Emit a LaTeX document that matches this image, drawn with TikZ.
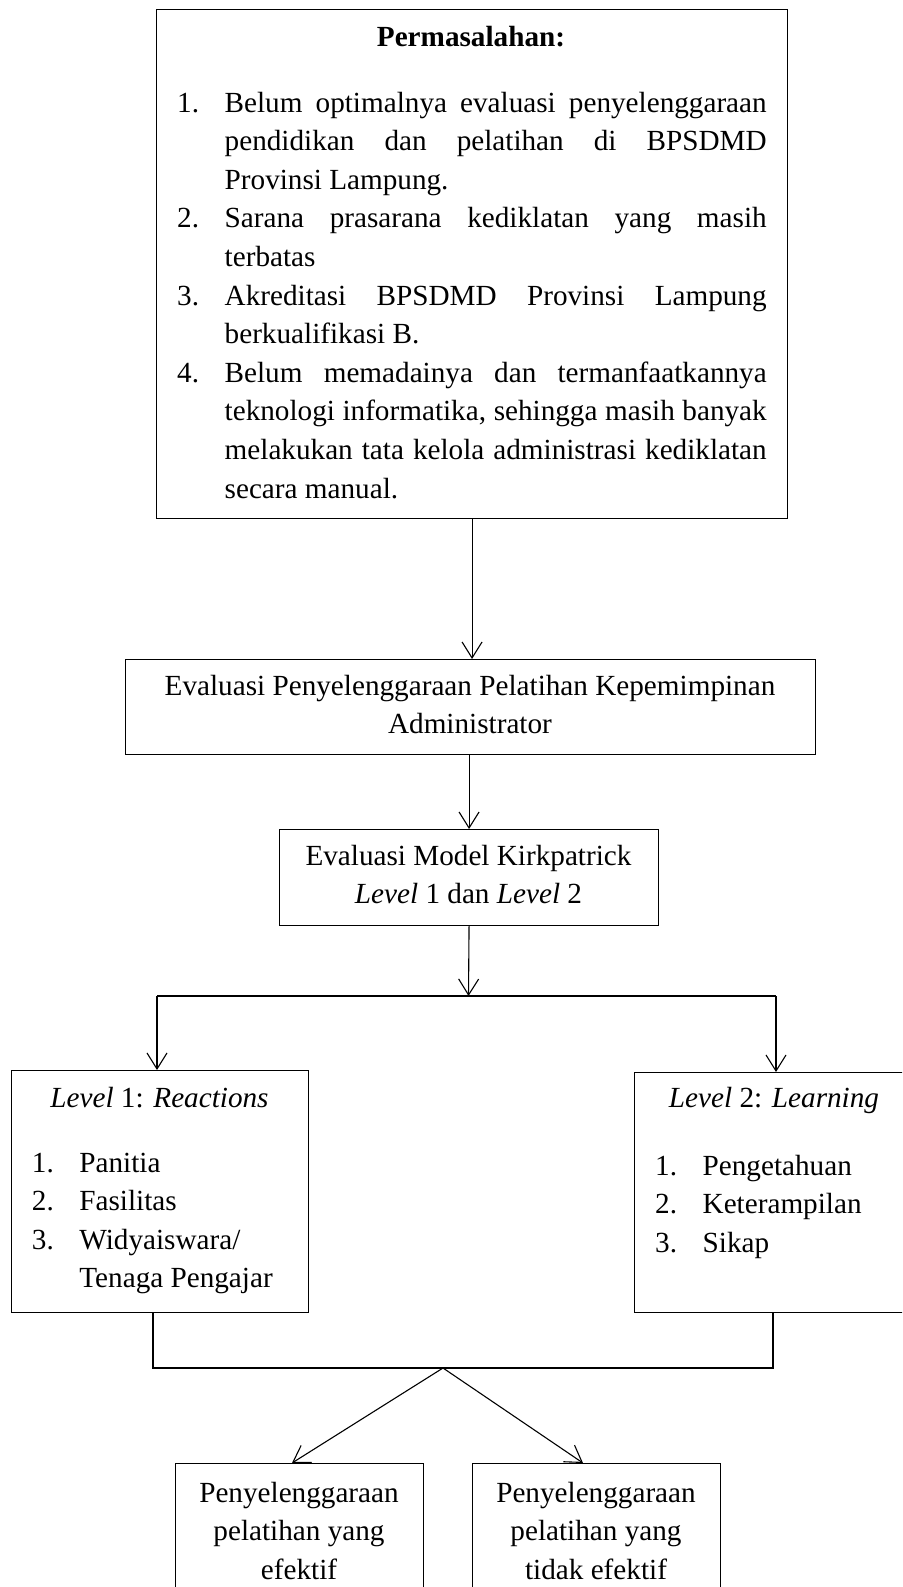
\documentclass[tikz,border=0pt]{standalone}
\usepackage{fontspec}
\setmainfont{Liberation Serif}
\usetikzlibrary{arrows.meta}
\newcommand{\Lines}[1]{\vtop{\baselineskip=38.6pt\lineskiplimit=-100pt\lineskip=0pt #1}}
\newcommand{\Jl}[2]{\hbox{\hbox to 47.5pt{#1\hfil}\hbox to 542pt{#2}}}
\newcommand{\Nl}[2]{\hbox{\hbox to 47.5pt{#1\hfil}#2}}
\newcommand{\Cl}[1]{\hbox to 0pt{\hss #1\hss}}
\begin{document}
\begin{tikzpicture}[x=1pt,y=-1pt,
  every node/.style={font=\fontsize{29.2}{38.6}\selectfont, inner sep=0pt},
  box/.style={draw, line width=1.1pt, anchor=north west, inner sep=0pt},
  link/.style={line width=1.1pt},
  arr/.style={line width=1.1pt, -{Straight Barb[length=16pt,width=20pt]}},
  txt/.style={anchor=base},
  ltxt/.style={anchor=base west}]
\useasboundingbox (0,0) rectangle (902,1587);
\clip (0,0) rectangle (902,1587);
\fill[white] (0,0) rectangle (902,1587);

% boxes
\node[box, minimum width=631pt, minimum height=509pt] (prob) at (156,9) {};
\node[box, minimum width=690pt, minimum height=95pt] (eval) at (125,659) {};
\node[box, minimum width=379pt, minimum height=96pt] (kirk) at (279,829) {};
\node[box, minimum width=297pt, minimum height=242pt] (lv1) at (11,1070) {};
\node[box, minimum width=284pt, minimum height=240pt] (lv2) at (634,1072) {};
\node[box, minimum width=248pt, minimum height=160pt] (eff) at (175,1463) {};
\node[box, minimum width=248pt, minimum height=160pt] (noeff) at (472,1463) {};

% texts
\node[txt] (probtitle) at (471,47) {\bfseries Permasalahan:};
\node[ltxt] (problist) at (177,112) {\Lines{%
\Jl{1.}{Belum optimalnya evaluasi penyelenggaraan}
\Jl{}{pendidikan dan pelatihan di BPSDMD}
\Nl{}{Provinsi Lampung.}
\Jl{2.}{Sarana prasarana kediklatan yang masih}
\Nl{}{terbatas}
\Jl{3.}{Akreditasi BPSDMD Provinsi Lampung}
\Nl{}{berkualifikasi B.}
\Jl{4.}{Belum memadainya dan termanfaatkannya}
\Jl{}{teknologi informatika, sehingga masih banyak}
\Jl{}{melakukan tata kelola administrasi kediklatan}
\Nl{}{secara manual.}}};

\node[txt] (evaltxt) at (470,695) {\Lines{%
\Cl{Evaluasi Penyelenggaraan Pelatihan Kepemimpinan}
\Cl{Administrator}}};

\node[txt] (kirktxt) at (468.5,865) {\Lines{%
\Cl{Evaluasi Model Kirkpatrick}
\Cl{\textit{Level} 1 dan \textit{Level} 2}}};

\node[txt] (lv1title) at (159.5,1107) {\textit{Level} 1: \textit{Reactions}};
\node[ltxt] (lv1list) at (31.7,1172) {\Lines{%
\Nl{1.}{Panitia}
\Nl{2.}{Fasilitas}
\Nl{3.}{Widyaiswara/}
\Nl{}{Tenaga Pengajar}}};

\node[txt] (lv2title) at (774,1107) {\textit{Level} 2: \textit{Learning}};
\node[ltxt] (lv2list) at (655,1175) {\Lines{%
\Nl{1.}{Pengetahuan}
\Nl{2.}{Keterampilan}
\Nl{3.}{Sikap}}};

\node[txt] (efftxt) at (299,1502) {\Lines{%
\Cl{Penyelenggaraan}
\Cl{pelatihan yang}
\Cl{efektif}}};
\node[txt] (noefftxt) at (596,1502) {\Lines{%
\Cl{Penyelenggaraan}
\Cl{pelatihan yang}
\Cl{tidak efektif}}};

% connectors
\draw[arr] (prob.south) -- (prob.south |- eval.north);
\draw[arr] (kirk.north |- eval.south) -- (kirk.north);
\coordinate (jc) at (468.5,996);
\coordinate (jl) at (157,996);
\coordinate (jr) at (776,996);
\draw[arr] (kirk.south) -- (jc);
\draw[link] (jl) -- (jr);
\draw[arr] (jl) -- (jl |- lv1.north);
\draw[arr] (jr) -- (jr |- lv2.north);
\coordinate (bl) at (153,1368);
\coordinate (br) at (773,1368);
\coordinate (apex) at (443,1368);
\draw[link] (bl |- lv1.south) -- (bl) -- (br) -- (br |- lv2.south);
\coordinate (ta) at (292,1463);
\coordinate (tb) at (583,1463);
\draw[arr] (apex) -- (ta);
\draw[arr] (apex) -- (tb);
\end{tikzpicture}
\end{document}
